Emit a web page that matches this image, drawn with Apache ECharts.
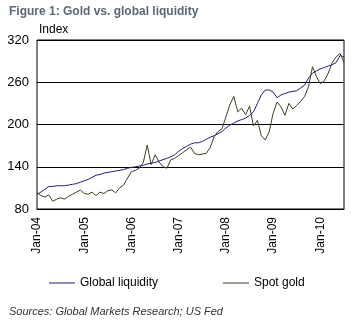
<!DOCTYPE html>
<html><head><meta charset="utf-8">
<script src="https://cdn.jsdelivr.net/npm/echarts@6/dist/echarts.min.js"></script>
<style>html,body{margin:0;padding:0;background:#fff}#c{width:358px;height:322px}</style>
</head><body><div id="c"></div>
<script>
const years = ['04','05','06','07','08','09','10'];
const monthNames = ['Jan','Feb','Mar','Apr','May','Jun','Jul','Aug','Sep','Oct','Nov','Dec'];
const categories = [];
for (let y = 0; y < years.length; y++) for (let m = 0; m < 12; m++) {
  if (categories.length < 79) categories.push(monthNames[m] + '-' + years[y]);
}
const globalLiquidity = [101,104,108,112,112,113,113,113,114,115,116,118,120,122,125,128,129,131,132,133,134,135,136,138,139,140,141,142,144,145,146,148,150,152,154,157,162,166,169,172,174,174,176,179,182,184,187,190,195,199,202,205,207,209,213,218,230,242,249,249,246,238,242,244,246,247,248,252,256,266,273,276,279,281,283,285,288,298,296];
const spotGold = [103,99,97,100,91,94,96,94,98,101,104,107,102,101,104,99,104,102,106,107,103,110,114,124,133,135,138,146,171,143,157,147,140,138,150,152,156,160,164,168,159,157,158,159,167,183,190,194,211,228,240,218,223,214,226,198,206,184,178,190,216,232,225,213,230,222,227,233,240,254,282,268,258,262,273,288,296,301,288];
const yTicks = [80,140,200,260,320];

const chart = echarts.init(document.getElementById('c'));
chart.setOption({
  animation: false,
  textStyle: {fontFamily: 'Liberation Sans, Arial, sans-serif'},
  title: [
    {text: 'Figure 1: Gold vs. global liquidity', left: 4, top: 1,
     textStyle: {fontSize: 12, fontWeight: 'bold', color: '#5a6878'}},
    {text: 'Sources: Global Markets Research; US Fed', left: 4, top: 301,
     textStyle: {fontSize: 11, fontWeight: 'normal', fontStyle: 'italic', color: '#333'}}
  ],
  grid: {left: 37, right: 14, top: 40, bottom: 113, show: true, borderColor: '#000', borderWidth: 1},
  legend: [
    {data: ['Global liquidity'], left: 44, top: 272, icon: 'rect', itemWidth: 26, itemHeight: 1, itemGap: 6,
     textStyle: {fontSize: 12, color: '#000'}},
    {data: ['Spot gold'], left: 218, top: 272, icon: 'rect', itemWidth: 26, itemHeight: 1,
     textStyle: {fontSize: 12, color: '#000'}}
  ],
  xAxis: {
    type: 'category', data: categories, boundaryGap: false,
    axisLine: {lineStyle: {color: '#000'}}, axisTick: {show: false},
    axisLabel: {interval: 11, rotate: 90, fontSize: 12, color: '#000', margin: 8},
    splitLine: {show: false}
  },
  yAxis: {
    type: 'value', min: yTicks[0], max: yTicks[yTicks.length-1], interval: 60,
    name: 'Index', nameLocation: 'end', nameGap: 4,
    nameTextStyle: {fontSize: 12, color: '#000', align: 'left', verticalAlign: 'bottom', padding: [0,0,0,2]},
    axisLine: {show: false}, axisTick: {show: false},
    axisLabel: {fontSize: 13, color: '#000', margin: 8},
    splitLine: {lineStyle: {color: '#000', width: 1}}
  },
  series: [
    {name: 'Global liquidity', type: 'line', data: globalLiquidity, showSymbol: false,
     lineStyle: {color: '#1c1c80', width: 1}, itemStyle: {color: '#1c1c80'}},
    {name: 'Spot gold', type: 'line', data: spotGold, showSymbol: false,
     lineStyle: {color: '#3a3f22', width: 1}, itemStyle: {color: '#3a3f22'}}
  ]
});
</script></body></html>
